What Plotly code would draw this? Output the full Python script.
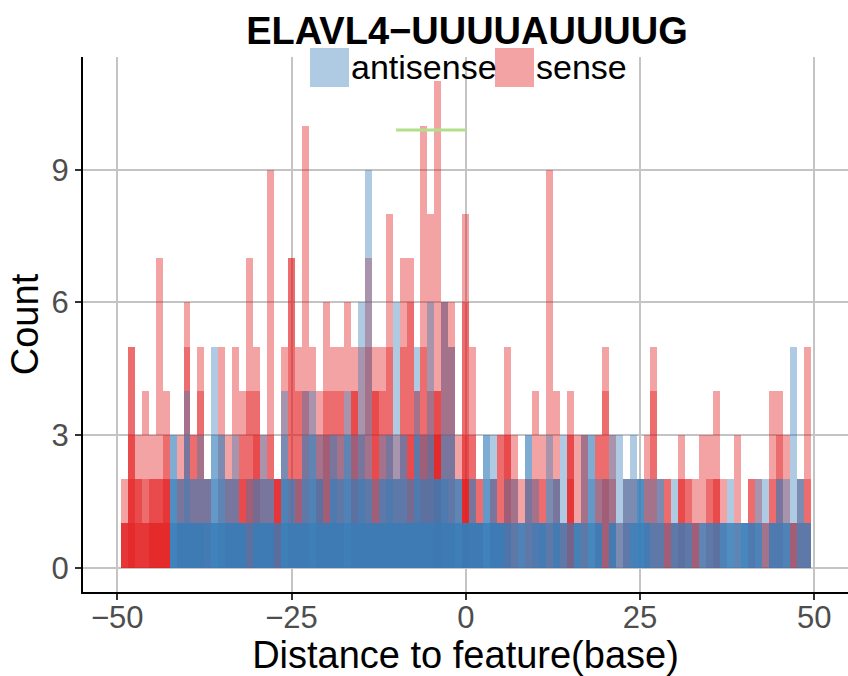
import plotly.graph_objects as go

# ---------------- data ----------------
distance = list(range(-49, 50))

# overlapping (alpha) layer heights per distance bin, sense strand
sense_layers = [
    [2, 1, 1, 1], [5, 5, 3, 2, 1], [3, 2, 2, 1], [4, 2, 1, 1], [3, 2, 2, 1, 1],   # -49..-45
    [7, 2, 2, 1, 1], [4, 3, 2, 2, 1], [], [3, 2], [6, 5],                        # -44..-40
    [3, 3], [5, 4], [2, 2], [], [5],                                              # -39..-35
    [3, 2], [5, 2], [4, 3, 2], [7, 4, 2], [5, 4, 3],                              # -34..-30
    [3, 2], [9, 3], [2, 2, 2, 2], [5], [7, 7],                                    # -29..-25
    [5, 4, 2], [10, 4], [5], [4, 3, 2], [6, 4, 3],                                # -24..-20
    [5, 4], [5, 4], [6], [5, 4, 4], [5, 3],                                       # -19..-15
    [7, 5], [5, 4, 4], [5, 4], [8, 5], [3, 2],                                    # -14..-10
    [7, 5], [7, 6, 3], [4, 4], [10, 5, 3], [8, 4, 3],                             # -9..-5
    [11, 4, 4, 3, 3], [6, 6], [6, 5], [3], [8, 6, 3, 2, 2],                       # -4..0
    [5, 3], [2, 2], [], [2, 2], [3, 3],                                           # 1..5
    [5, 3, 3], [3, 2], [2], [2, 2], [4, 2],                                       # 6..10
    [3, 2], [9, 1], [4, 2], [1, 1], [4, 3, 3, 2],                                 # 11..15
    [3], [3, 3], [], [3, 3], [5, 4, 2],                                           # 16..20
    [3, 2], [1], [2, 1], [2], [],                                                 # 21..25
    [3, 2], [5, 4], [2, 1], [2, 2, 1], [1, 1],                                    # 26..30
    [3, 2, 2], [2, 2], [2, 1, 1], [3], [3, 2],                                    # 31..35
    [4, 2, 2], [2], [], [3], [],                                                  # 36..40
    [2, 2], [2], [1, 1], [4, 2], [4, 3],                                          # 41..45
    [3], [1, 1, 1], [2, 1], [5, 2],                                               # 46..49
]

# overlapping (alpha) layer heights per distance bin, antisense strand
antisense_layers = [
    [], [], [], [], [],                                                                       # -49..-45
    [], [], [3, 3, 2, 2, 1, 1], [2, 2, 1, 1, 1, 1], [4, 3, 2, 1, 1, 1],                       # -44..-40
    [2, 2, 1, 1, 1, 1], [3, 2, 1, 1, 1, 1], [2, 2, 1, 1, 1], [5, 3, 2, 1, 1, 1], [3, 3, 2, 1, 1, 1],  # -39..-35
    [2, 2, 1, 1, 1, 1], [3, 2, 1, 1, 1, 1], [1, 1, 1, 1, 1, 1], [2, 1, 1], [2, 2, 1, 1, 1, 1],  # -34..-30
    [3, 2, 1, 1, 1, 1], [2, 2, 1, 1, 1, 1], [1, 1, 1], [4, 3, 2, 2, 1, 1], [2, 2, 2, 1, 1, 1],  # -29..-25
    [2, 1, 1, 1, 1, 1], [4, 3, 2, 1, 1, 1], [4, 3, 3, 2, 1, 1], [3, 2, 2, 1, 1, 1], [3, 1, 1, 1, 1, 1],  # -24..-20
    [3, 3, 2, 2, 1, 1], [3, 2, 2, 1, 1, 1], [4, 3, 3, 2, 1, 1], [3, 2, 2, 1, 1, 1], [6, 3, 2, 2, 1, 1],  # -19..-15
    [9, 2, 2, 1, 1, 1], [2, 1, 1, 1, 1, 1], [3, 2, 2, 1, 1, 1], [3, 3, 2, 2, 1, 1], [6, 2, 2, 1, 1, 1],  # -14..-10
    [3, 3, 2, 1, 1, 1], [2, 2, 1, 1, 1, 1], [5, 3, 3, 2, 1, 1], [3, 2, 2, 1, 1, 1], [6, 3, 2, 1, 1, 1],  # -9..-5
    [2, 2, 2, 2, 1, 1], [6, 3, 2, 2, 1, 1], [5, 3, 2, 1, 1, 1], [2, 2, 2, 1, 1, 1], [1, 1, 1, 1, 1, 1],  # -4..0
    [2, 2, 1, 1, 1, 1], [1, 1, 1, 1, 1, 1], [3, 3, 2, 1, 1, 1], [3, 2, 1, 1, 1, 1], [1, 1, 1, 1, 1, 1],  # 1..5
    [2, 1, 1, 1], [2, 1, 1], [1, 1, 1, 1], [3, 3, 1], [2, 1, 1, 1],                           # 6..10
    [1, 1, 1, 1, 1], [3, 2, 1], [2, 2, 1, 1, 1], [3, 1, 1], [1, 1],                           # 11..15
    [1, 1, 1, 1, 1], [3, 1, 1], [3, 3, 2, 1, 1], [2, 1, 1, 1, 1], [2],                        # 16..20
    [3, 1, 1, 1, 1], [3, 1], [2, 2, 1], [3, 2, 1, 1, 1], [2, 2, 2, 2, 1, 1],                  # 21..25
    [2, 1, 1, 1, 1], [2, 1, 1], [2, 2, 1], [1], [2, 1, 1],                                    # 26..30
    [1, 1, 1], [1, 1, 1], [1], [1, 1, 1], [1, 1, 1],                                          # 31..35
    [1, 1, 1], [1, 1, 1, 1], [2, 1, 1, 1], [1, 1, 1], [1, 1, 1, 1, 1],                        # 36..40
    [1, 1, 1, 1], [2, 1, 1, 1], [2], [1, 1, 1, 1], [2, 2, 1, 1],                              # 41..45
    [2, 1, 1, 1], [5], [2, 2, 1], [1, 1, 1],                                                  # 46..49
]

x_ticks = [-50, -25, 0, 25, 50]
x_tick_labels = ["−50", "−25", "0", "25", "50"]
y_ticks = [0, 3, 6, 9]
motif_x = [-10, 0]
motif_y = [9.9, 9.9]

RED = "rgba(228,26,28,0.4)"
BLUE = "rgba(55,126,184,0.4)"
FONT = "Liberation Sans, Arial, Helvetica, sans-serif"

fig = go.Figure()


def add_layers(layers, color, name):
    depth = max(len(l) for l in layers)
    for j in range(depth):
        y = [l[j] if len(l) > j else None for l in layers]
        fig.add_trace(go.Bar(
            x=distance, y=y, width=1, name=name, showlegend=False,
            marker=dict(color=color, line=dict(width=0)),
        ))


add_layers(sense_layers, RED, "sense")
add_layers(antisense_layers, BLUE, "antisense")

fig.add_trace(go.Scatter(
    x=motif_x, y=motif_y, mode="lines", showlegend=False,
    line=dict(color="#B2DF8A", width=3),
))

# ---------------- layout ----------------
W, H = 848, 676
ML, MR, MT, MB = 83, 0, 57, 84
pw, ph = W - ML - MR, H - MT - MB


def px_x(px):
    return (px - ML) / pw


def px_y(py):
    return (H - MB - py) / ph


fig.update_layout(
    width=W, height=H,
    margin=dict(l=ML, r=MR, t=MT, b=MB, pad=0),
    barmode="overlay", bargap=0,
    plot_bgcolor="white", paper_bgcolor="white",
    font=dict(family=FONT, color="black"),
    showlegend=False,
    title=dict(
        text="<b>ELAVL4−UUUUAUUUUG</b>",
        x=px_x(467), xref="paper", xanchor="center",
        y=1 - 31 / H, yref="container", yanchor="middle",
        font=dict(size=38, color="black", family=FONT),
    ),
)

fig.update_xaxes(
    range=[-54.92, 54.84], tickvals=x_ticks, ticktext=x_tick_labels,
    showgrid=True, gridcolor="#C4C4C4", gridwidth=1.8, zeroline=False,
    showline=True, linecolor="black", linewidth=2,
    ticks="outside", ticklen=6, tickwidth=2, tickcolor="#333333",
    ticklabelstandoff=-9,
    tickfont=dict(size=31, color="#4D4D4D", family=FONT),
    title=dict(text="Distance to feature(base)", font=dict(size=38, color="black", family=FONT), standoff=0),
    automargin=False,
)
fig.update_yaxes(
    range=[-0.55, 11.55], tickvals=y_ticks,
    showgrid=True, gridcolor="#C4C4C4", gridwidth=1.8, zeroline=False,
    showline=True, linecolor="black", linewidth=2,
    ticks="outside", ticklen=6, tickwidth=2, tickcolor="#333333",
    tickfont=dict(size=31, color="#4D4D4D", family=FONT),
    title=dict(text="Count", font=dict(size=38, color="black", family=FONT), standoff=1),
    automargin=False,
)

# legend drawn as keys + labels
legend_items = [("antisense", BLUE, 310), ("sense", RED, 495)]
for label, color, left in legend_items:
    fig.add_shape(
        type="rect", xref="paper", yref="paper",
        x0=px_x(left), x1=px_x(left + 39), y0=px_y(87), y1=px_y(48),
        fillcolor=color, line=dict(width=0), layer="above",
    )
    fig.add_annotation(
        text=label, xref="paper", yref="paper",
        x=px_x(left + 40), y=px_y(67), xanchor="left", yanchor="middle",
        showarrow=False, borderpad=0,
        font=dict(size=34, color="black", family=FONT),
    )

fig.write_html(
    "out.html",
    config={"displayModeBar": False},
    post_script="document.body.style.margin='0';document.body.style.overflow='hidden';",
)
